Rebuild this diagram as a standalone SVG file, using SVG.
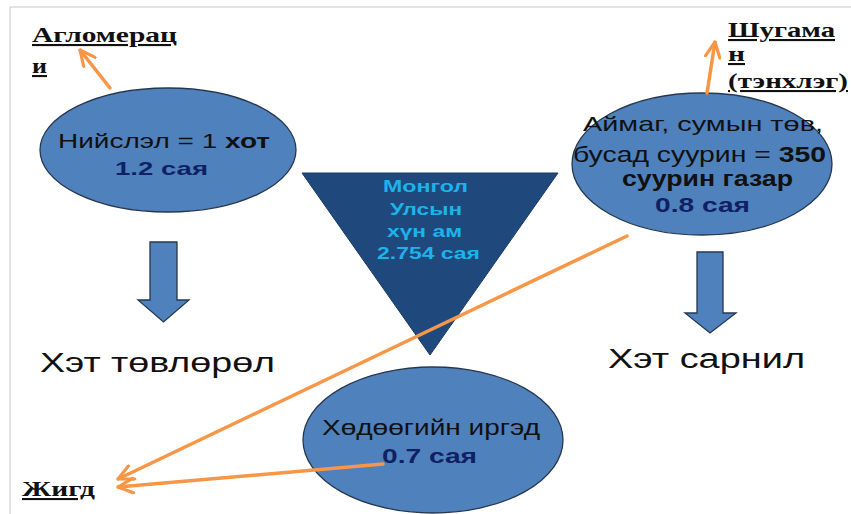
<svg xmlns="http://www.w3.org/2000/svg" width="851" height="514" viewBox="0 0 851 514">
<style>
.ell{fill:#4f81bd;stroke:#26384f;stroke-width:1.3}
.blk{fill:#4f81bd;stroke:#26384f;stroke-width:1.3}
.t{font-family:"Liberation Sans",Arial,sans-serif;fill:#111}
.b{font-weight:bold}
.navy{fill:#0f2163;font-weight:bold}
.tri{font-family:"Liberation Sans",Arial,sans-serif;font-weight:bold;fill:#1db3ea;font-size:17px}
.lbl{font-family:"Liberation Serif","Times New Roman",serif;font-weight:bold;font-size:21px;fill:#111;text-decoration:underline}
.conn{fill:none;stroke:#f79646;stroke-width:3.5;stroke-linecap:round}
</style>
<defs>
<marker id="ah" viewBox="0 0 10 10" refX="9.5" refY="5" markerWidth="5" markerHeight="5" orient="auto" markerUnits="strokeWidth">
<path d="M0.8,0.8 L9.5,5 L0.8,9.2" fill="none" stroke="#f79646" stroke-width="1.8" stroke-linecap="round" stroke-linejoin="round"/>
</marker>
</defs>
<rect width="851" height="514" fill="#ffffff"/>
<path d="M10,514 V7 H851" fill="none" stroke="#c8c8c8" stroke-width="1"/>

<g id="triangle">
<polygon points="302,173 558,173 430,355" fill="#1f497d" stroke="#1a3a63" stroke-width="1"/>
<text class="tri" x="383" y="192" textLength="85" lengthAdjust="spacingAndGlyphs">Монгол</text>
<text class="tri" x="390" y="215" textLength="72" lengthAdjust="spacingAndGlyphs">Улсын</text>
<text class="tri" x="387" y="237" textLength="75" lengthAdjust="spacingAndGlyphs">хүн ам</text>
<text class="tri" x="377" y="259" textLength="103" lengthAdjust="spacingAndGlyphs">2.754 сая</text>
</g>

<g id="capital">
<ellipse class="ell" cx="168" cy="150" rx="128" ry="62"/>
<text class="t" x="58" y="148" font-size="20" textLength="212" lengthAdjust="spacingAndGlyphs">Нийслэл = 1 <tspan class="b">хот</tspan></text>
<text class="t navy" x="115" y="175" font-size="19" textLength="93" lengthAdjust="spacingAndGlyphs">1.2 сая</text>
</g>

<g id="aimag">
<ellipse class="ell" cx="702" cy="164" rx="130" ry="71"/>
<text class="t" x="583" y="131" font-size="21" textLength="240" lengthAdjust="spacingAndGlyphs">Аймаг, сумын төв,</text>
<text class="t" x="573" y="162" font-size="22" textLength="253" lengthAdjust="spacingAndGlyphs">бусад суурин = <tspan class="b">350</tspan></text>
<text class="t b" x="622" y="186" font-size="22" textLength="171" lengthAdjust="spacingAndGlyphs">суурин газар</text>
<text class="t navy" x="655" y="212" font-size="21" textLength="95" lengthAdjust="spacingAndGlyphs">0.8 сая</text>
</g>

<g id="rural">
<ellipse class="ell" cx="433" cy="440" rx="130" ry="73"/>
<text class="t" x="322" y="435" font-size="22" textLength="218" lengthAdjust="spacingAndGlyphs">Хөдөөгийн иргэд</text>
<text class="t navy" x="382" y="463" font-size="20" textLength="95" lengthAdjust="spacingAndGlyphs">0.7 сая</text>
</g>

<g id="arrow-left">
<polygon class="blk" points="150,242 177,242 177,300 189,300 163.5,322 138,300 150,300"/>
</g>
<g id="arrow-right">
<polygon class="blk" points="697,252 723,252 723,313 736,313 710,333 685,313 697,313"/>
</g>

<g id="label-centralization">
<text class="t" x="40" y="372" font-size="28" textLength="235" lengthAdjust="spacingAndGlyphs">Хэт төвлөрөл</text>
</g>
<g id="label-dispersion">
<text class="t" x="608" y="368" font-size="27" textLength="197" lengthAdjust="spacingAndGlyphs">Хэт сарнил</text>
</g>

<g id="label-agglomeration">
<text class="lbl" x="32" y="42" textLength="145" lengthAdjust="spacingAndGlyphs">Агломерац</text>
<text class="lbl" x="32" y="73" textLength="15" lengthAdjust="spacingAndGlyphs">и</text>
</g>
<g id="label-linear">
<text class="lbl" x="728" y="37" textLength="107" lengthAdjust="spacingAndGlyphs">Шугама</text>
<text class="lbl" x="728" y="61" textLength="17" lengthAdjust="spacingAndGlyphs">н</text>
<text class="lbl" x="728" y="88" textLength="120" lengthAdjust="spacingAndGlyphs">(тэнхлэг)</text>
</g>
<g id="label-even">
<text class="lbl" x="22" y="496" textLength="73" lengthAdjust="spacingAndGlyphs">Жигд</text>
</g>

<g id="connectors">
<line class="conn" x1="110" y1="88" x2="80" y2="50" marker-end="url(#ah)"/>
<line class="conn" x1="707" y1="93" x2="715" y2="42" marker-end="url(#ah)"/>
<line class="conn" x1="627" y1="236" x2="118" y2="479" marker-end="url(#ah)"/>
<line class="conn" x1="383" y1="464" x2="118" y2="487" marker-end="url(#ah)"/>
</g>
</svg>
